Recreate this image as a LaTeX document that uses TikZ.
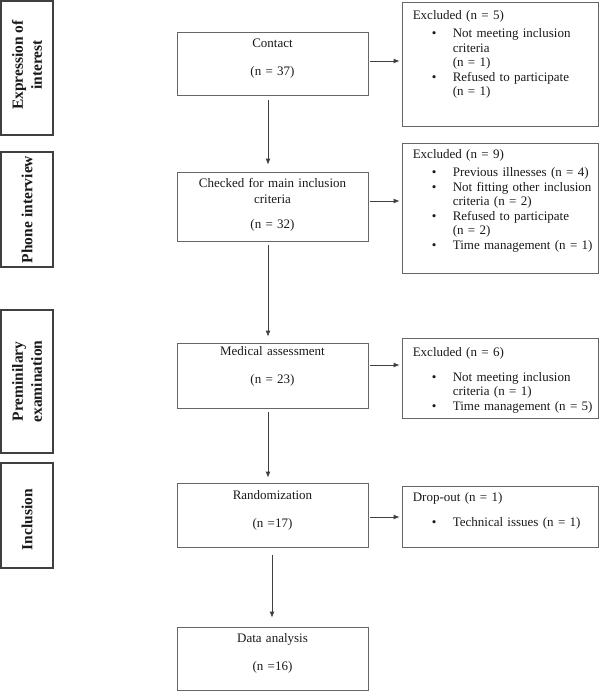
\documentclass[tikz,border=0pt]{standalone}
\usepackage{fontspec}
\setmainfont{Liberation Serif}
\usetikzlibrary{arrows.meta}
\newcommand{\bul}{\hspace*{19pt}\makebox[21pt][l]{\textbullet}}
\newcommand{\ind}{\hspace*{40pt}}
\begin{document}
\begin{tikzpicture}[x=1pt,y=-1pt,
  sidebox/.style={draw=black!75, line width=1.2pt, inner sep=0pt, minimum width=52pt},
  sidetext/.style={inner sep=0pt, align=center, rotate=90, text=black!90, font=\fontsize{15.5}{19}\selectfont\bfseries},
  cbox/.style={draw=black!60, line width=0.8pt, inner sep=0pt, minimum width=191pt},
  rbox/.style={draw=black!60, line width=0.8pt, inner sep=0pt, minimum width=196pt},
  ctext/.style={inner sep=0pt, text width=191pt, align=center, anchor=base, text=black!90, font=\fontsize{13}{14.5}\selectfont},
  rtext/.style={inner sep=0pt, text width=185pt, align=left, anchor=base west, text=black!90, font=\fontsize{13}{14.5}\selectfont},
  arr/.style={draw=black!75, line width=0.8pt, -{Latex[length=6pt,width=5pt]}}
]
\useasboundingbox (0,0) rectangle (600,691);

% side labels
\node[sidebox, minimum height=134pt] (s1) at (27,68) {};
\node[sidetext] (s1t) at ([yshift=3pt]s1.center) {Expression of\\interest};
\node[sidebox, minimum height=115pt] (s2) at (27,209.5) {};
\node[sidetext] (s2t) at (s2.center) {Phone interview};
\node[sidebox, minimum height=143pt] (s3) at (27,381.5) {};
\node[sidetext] (s3t) at (s3.center) {Preminilary\\examination};
\node[sidebox, minimum height=105pt] (s4) at (27,515.5) {};
\node[sidetext] (s4t) at ([yshift=-4pt]s4.center) {Inclusion};

% centre boxes
\node[cbox, minimum height=63pt] (contact) at (272.5,63.5) {};
\node[ctext] (contactt) at ([yshift=-16pt]contact.north) {Contact\\[13pt](n = 37)};
\node[cbox, minimum height=69pt] (checked) at (272.5,206.5) {};
\node[ctext] (checkedt) at ([yshift=-16pt]checked.north) {Checked for main inclusion\\[1.5pt]criteria\\[10pt](n = 32)};
\node[cbox, minimum height=65pt] (medical) at (272.5,375.5) {};
\node[ctext] (medicalt) at ([yshift=-13pt]medical.north) {Medical assessment\\[13pt](n = 23)};
\node[cbox, minimum height=64pt] (random) at (272.5,515) {};
\node[ctext] (randomt) at ([yshift=-17pt]random.north) {Randomization\\[13pt](n =17)};
\node[cbox, minimum height=63pt] (data) at (272.5,658.5) {};
\node[ctext] (datat) at ([yshift=-16pt]data.north) {Data analysis\\[13pt](n =16)};

% right boxes
\node[rbox, minimum height=124pt] (ex1) at (500,64) {};
\node[rtext] (ex1t) at ([xshift=11pt,yshift=-18pt]ex1.north west) {Excluded (n = 5)\\[3.5pt]
\bul Not meeting inclusion\\
\ind criteria\\
\ind (n = 1)\\
\bul Refused to participate\\
\ind (n = 1)};
\node[rbox, minimum height=130pt] (ex2) at (500,208) {};
\node[rtext] (ex2t) at ([xshift=11pt,yshift=-16pt]ex2.north west) {Excluded (n = 9)\\[3.5pt]
\bul Previous illnesses (n = 4)\\
\bul Not fitting other inclusion\\
\ind criteria (n = 2)\\
\bul Refused to participate\\
\ind (n = 2)\\
\bul Time management (n = 1)};
\node[rbox, minimum height=80pt] (ex3) at (500,378) {};
\node[rtext] (ex3t) at ([xshift=11pt,yshift=-19pt]ex3.north west) {Excluded (n = 6)\\[10pt]
\bul Not meeting inclusion\\
\ind criteria (n = 1)\\
\bul Time management (n = 5)};
\node[rbox, minimum height=61pt] (drop) at (500,516.5) {};
\node[rtext] (dropt) at ([xshift=11pt,yshift=-16pt]drop.north west) {Drop-out (n = 1)\\[10pt]
\bul Technical issues (n = 1)};

% vertical arrows
\draw[arr] ([xshift=-4.5pt,yshift=-5pt]contact.south) -- ([xshift=-4.5pt,yshift=7pt]checked.north);
\draw[arr] ([xshift=-4.5pt,yshift=-4pt]checked.south) -- ([xshift=-4.5pt,yshift=6pt]medical.north);
\draw[arr] ([xshift=-4.5pt,yshift=-4pt]medical.south) -- ([xshift=-4.5pt,yshift=5pt]random.north);
\draw[arr] ([xshift=-0.5pt,yshift=-8pt]random.south) -- ([xshift=-0.5pt,yshift=9pt]data.north);

% horizontal arrows
\coordinate (h1) at ([xshift=2pt,yshift=2.5pt]contact.east);
\draw[arr] (h1) -- ([xshift=-2pt]h1 -| ex1.west);
\coordinate (h2) at ([xshift=2pt,yshift=5.5pt]checked.east);
\draw[arr] (h2) -- ([xshift=-2pt]h2 -| ex2.west);
\coordinate (h3) at ([xshift=2pt,yshift=10.5pt]medical.east);
\draw[arr] (h3) -- ([xshift=-2pt]h3 -| ex3.west);
\coordinate (h4) at ([xshift=2pt,yshift=-2pt]random.east);
\draw[arr] (h4) -- ([xshift=-2pt]h4 -| drop.west);
\end{tikzpicture}
\end{document}
